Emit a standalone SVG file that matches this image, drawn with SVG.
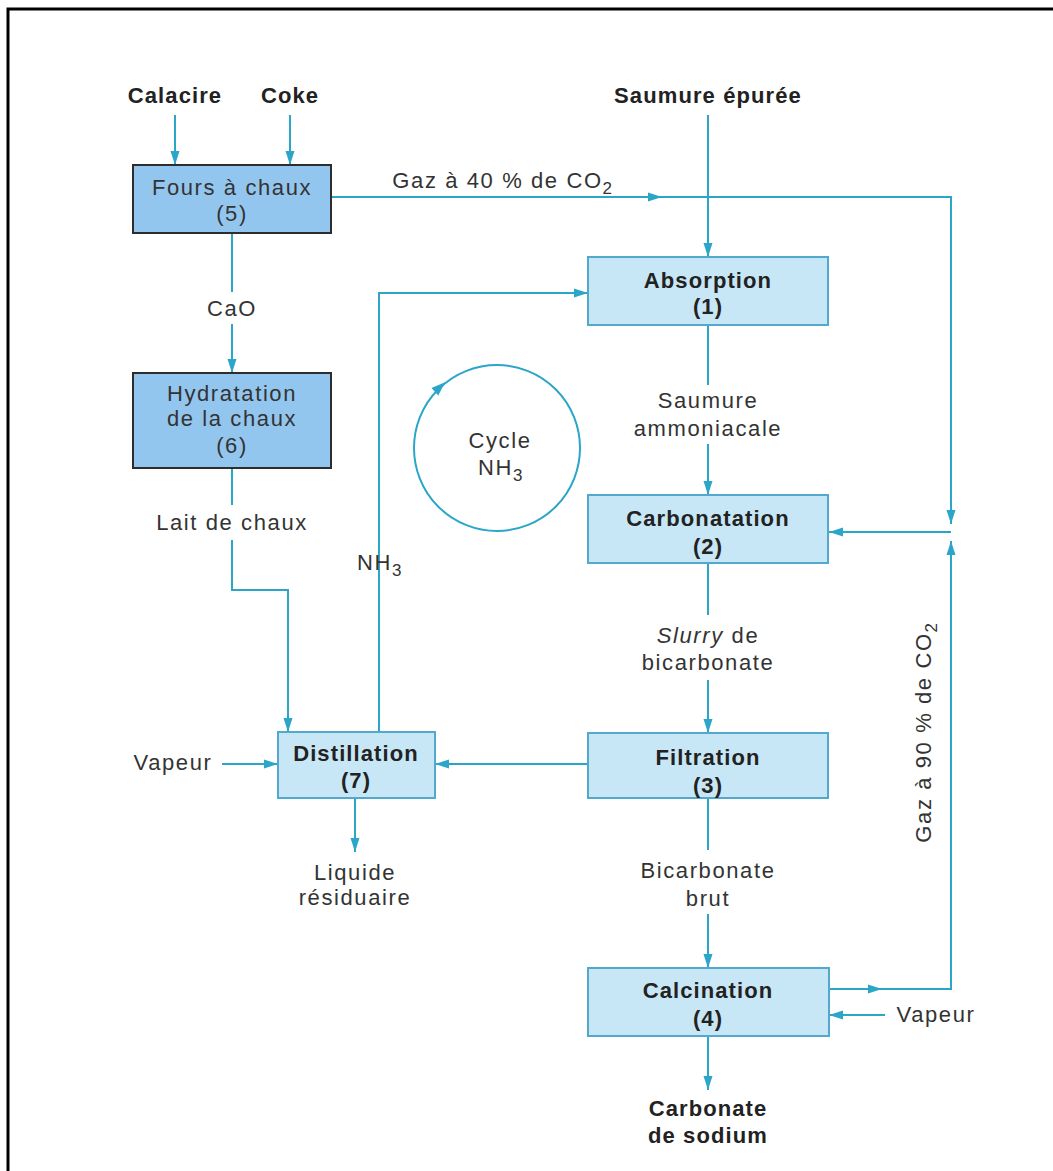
<svg xmlns="http://www.w3.org/2000/svg" width="1053" height="1171" viewBox="0 0 1053 1171">
<defs>
<marker id="ah" markerUnits="userSpaceOnUse" markerWidth="15" markerHeight="10" refX="14" refY="5" orient="auto">
<path d="M0,0.5 L14,5 L0,9.5 z" fill="#2ba6c9"/>
</marker>
</defs>
<style>
.ln{fill:none;stroke:#2ba6c9;stroke-width:2}
.bx{fill:#c8e7f6;stroke:#52a9cc;stroke-width:2}
.bx2{fill:#93c6ef;stroke:#2d2d2d;stroke-width:2}
text{font-family:"Liberation Sans",Arial,sans-serif;font-size:22px;fill:#333;text-anchor:middle;letter-spacing:1.6px}
.b{font-weight:bold;fill:#222;letter-spacing:1.1px}
.s{font-size:17px}
</style>
<rect width="1053" height="1171" fill="#fff"/>
<path d="M8,1171 V9 H1053" fill="none" stroke="#000" stroke-width="3"/>

<g id="connectors">
<path class="ln" d="M175,115 V165" marker-end="url(#ah)"/>
<path class="ln" d="M290,115 V165" marker-end="url(#ah)"/>
<path class="ln" d="M708,115 V257" marker-end="url(#ah)"/>
<path class="ln" d="M331,197 H662" marker-end="url(#ah)"/>
<path class="ln" d="M662,197 H951 V524" marker-end="url(#ah)"/>
<path class="ln" d="M951,532 H829" marker-end="url(#ah)"/>
<path class="ln" d="M829,989 H882" marker-end="url(#ah)"/>
<path class="ln" d="M882,989 H951 V541" marker-end="url(#ah)"/>
<path class="ln" d="M885,1015 H829" marker-end="url(#ah)"/>
<path class="ln" d="M708,325 V385"/>
<path class="ln" d="M708,444 V495" marker-end="url(#ah)"/>
<path class="ln" d="M708,563 V615"/>
<path class="ln" d="M708,680 V733" marker-end="url(#ah)"/>
<path class="ln" d="M708,798 V850"/>
<path class="ln" d="M708,914 V968" marker-end="url(#ah)"/>
<path class="ln" d="M708,1036 V1090" marker-end="url(#ah)"/>
<path class="ln" d="M588,764 H435" marker-end="url(#ah)"/>
<path class="ln" d="M222,764 H278" marker-end="url(#ah)"/>
<path class="ln" d="M355,798 V852" marker-end="url(#ah)"/>
<path class="ln" d="M232,233 V292"/>
<path class="ln" d="M232,324 V373" marker-end="url(#ah)"/>
<path class="ln" d="M232,468 V505"/>
<path class="ln" d="M232,540 V590 H288 V732" marker-end="url(#ah)"/>
<path class="ln" d="M379,732 V293 H588" marker-end="url(#ah)"/>
<circle class="ln" cx="497" cy="448" r="83"/>
<path d="M-7,-5 L7,0 L-7,5 z" fill="#2ba6c9" transform="translate(440,387) rotate(-43)"/>
</g>

<g id="labels">
<text class="b" x="175" y="103">Calacire</text>
<text class="b" x="290" y="103">Coke</text>
<text class="b" x="708" y="103">Saumure épurée</text>
<text x="503" y="188">Gaz à 40 % de CO<tspan class="s" dy="6">2</tspan></text>
<text x="232" y="316">CaO</text>
<text x="232" y="530">Lait de chaux</text>
<text x="380" y="570">NH<tspan class="s" dy="6">3</tspan></text>
<text x="500" y="448">Cycle</text>
<text x="501" y="475">NH<tspan class="s" dy="6">3</tspan></text>
<text x="708" y="408">Saumure</text>
<text x="708" y="436">ammoniacale</text>
<text x="708" y="643"><tspan font-style="italic">Slurry</tspan> de</text>
<text x="708" y="670">bicarbonate</text>
<text x="708" y="878">Bicarbonate</text>
<text x="708" y="906">brut</text>
<text x="173" y="770">Vapeur</text>
<text x="355" y="880">Liquide</text>
<text x="355" y="905">résiduaire</text>
<text x="936" y="1022">Vapeur</text>
<text class="b" x="708" y="1116">Carbonate</text>
<text class="b" x="708" y="1143">de sodium</text>
<text transform="translate(931,732) rotate(-90)">Gaz à 90 % de CO<tspan class="s" dy="6">2</tspan></text>
</g>

<g id="n5">
<rect class="bx2" x="133" y="165" width="198" height="68"/>
<text x="232" y="195">Fours à chaux</text>
<text x="232" y="221">(5)</text>
</g>
<g id="n6">
<rect class="bx2" x="133" y="373" width="198" height="95"/>
<text x="232" y="401">Hydratation</text>
<text x="232" y="426">de la chaux</text>
<text x="232" y="453">(6)</text>
</g>
<g id="n1">
<rect class="bx" x="588" y="257" width="240" height="68"/>
<text class="b" x="708" y="288">Absorption</text>
<text class="b" x="708" y="314">(1)</text>
</g>
<g id="n2">
<rect class="bx" x="588" y="495" width="240" height="68"/>
<text class="b" x="708" y="526">Carbonatation</text>
<text class="b" x="708" y="554">(2)</text>
</g>
<g id="n3">
<rect class="bx" x="588" y="733" width="240" height="65"/>
<text class="b" x="708" y="765">Filtration</text>
<text class="b" x="708" y="793">(3)</text>
</g>
<g id="n4">
<rect class="bx" x="588" y="968" width="241" height="68"/>
<text class="b" x="708" y="998">Calcination</text>
<text class="b" x="708" y="1026">(4)</text>
</g>
<g id="n7">
<rect class="bx" x="278" y="732" width="157" height="66"/>
<text class="b" x="356" y="761">Distillation</text>
<text class="b" x="356" y="788">(7)</text>
</g>
</svg>
